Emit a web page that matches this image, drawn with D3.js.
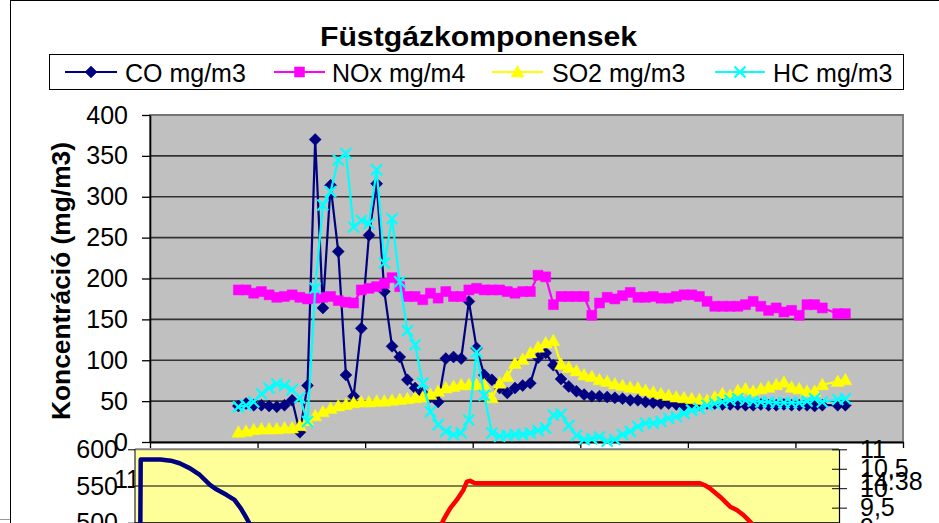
<!DOCTYPE html>
<html><head><meta charset="utf-8">
<script src="https://cdn.jsdelivr.net/npm/d3@7"></script>
<style>
body{margin:0;background:#fff;}
svg{display:block;font-family:"Liberation Sans",Arial,Helvetica,sans-serif;}
</style>
</head><body>
<svg id="c" width="939" height="523"></svg>
<script>
// ---------- DATA ----------
const chartTitle = "Füstgázkomponensek";
const yAxisTitle = "Koncentráció (mg/m3)";
const seriesNames = ["CO mg/m3", "NOx mg/m4", "SO2 mg/m3", "HC mg/m3"];
const yTicks = [0, 50, 100, 150, 200, 250, 300, 350, 400];
const categoryCount = 98;      // category slots on the x axis
const firstCategory = 11;      // first slot holding data
const xTickValues = [0, 14, 28, 42, 56, 70, 84, 98];

const coValues = [44,47,45,45,44,43,45,51,12,69,
  370,164,314,233,82,56,139,253,316,184,
  117,104,76,66,60,55,49,102,104,102,
  172,115,82,76,66,60,66,69,72,103,
  109,94,77,68,62,58,56,56,55,54,
  53,51,51,49,48,47,47,46,45,46,
  46,47,47,46,46,46,45,45,46,45,
  45,46,45,45,45,44,45,null,45,45];
const noxValues = [186,186,182,184,180,177,178,180,177,175,
  176,177,178,173,171,170,186,188,190,194,
  201,190,178,178,174,182,176,184,178,178,
  186,188,186,186,186,184,182,184,184,204,
  202,168,178,178,178,178,155,170,177,175,
  179,183,177,177,178,176,176,178,180,180,
  178,172,166,166,166,166,168,172,166,161,
  164,159,161,155,168,168,164,null,157,157];
const so2Values = [12,13,15,16,16,16,17,17,20,26,
  32,37,41,44,46,48,49,49,50,50,
  51,52,53,54,55,58,62,66,68,70,
  70,70,70,54,72,80,96,101,109,116,
  121,124,95,91,87,82,80,76,74,71,
  69,67,66,63,61,59,57,55,54,53,
  52,51,55,59,57,63,65,62,65,67,
  70,73,67,65,62,62,70,null,74,76];
const hcValues = [43,45,49,59,66,71,69,64,54,25,
  188,290,306,345,353,263,271,267,333,219,
  273,196,136,119,72,37,21,13,9,11,
  27,110,57,11,7,8,9,9,11,14,
  17,33,34,20,8,3,4,6,1,3,
  9,13,19,23,23,25,29,31,35,39,
  41,45,47,49,51,53,51,50,49,49,
  48,48,48,48,50,53,49,null,52,53];

// second (lower) chart, partly visible
const lowerLeftTicks = [500, 550, 600];
const lowerRightTicks = [9, 9.5, 10, 10.5, 11];
const lowerExtraLabel = "14:38";
const lowerHiddenLabel = "11";
const blueTime  = [0, 0.4, 3, 6, 9, 11.5, 14.5, 17.3, 20.2, 22, 25, 27.2, 29, 30.4, 32.5];
const blueValue = [250, 586, 586, 586, 584.5, 581, 574, 565, 551.4, 545.5, 537.7, 531, 519.6, 508.2, 490];
const redTime  = [84.8, 86.9, 88.8, 90.7, 92.6, 93.6, 94.5, 95.9, 160.2, 161.6, 163, 165.9, 168.8, 170.7, 172.6, 174.5, 176.8];
const redValue = [480, 503.7, 519.6, 531, 544.6, 556, 557, 553.7, 553.7, 551, 547, 535.4, 521.8, 517.3, 510.5, 501.4, 488];

// ---------- DRAW ----------
const svg = d3.select("#c");
const FONT = 25;

// outer frame of the first chart
svg.append("line").attr("x1",10.5).attr("x2",10.5).attr("y1",0).attr("y2",523).attr("stroke","#000").attr("stroke-width",1);
svg.append("line").attr("x1",10).attr("x2",939).attr("y1",0.5).attr("y2",0.5).attr("stroke","#000").attr("stroke-width",1);
svg.append("line").attr("x1",0).attr("x2",10).attr("y1",519.5).attr("y2",519.5).attr("stroke","#999").attr("stroke-width",1);

// title
svg.append("text").attr("x",478.5).attr("y",46).attr("text-anchor","middle")
  .attr("font-size",27).attr("font-weight","bold").attr("textLength",317).attr("lengthAdjust","spacingAndGlyphs")
  .text(chartTitle);

// scales
const x = d3.scaleLinear().domain([0, categoryCount]).range([150, 903]);
const y = d3.scaleLinear().domain([0, 400]).range([442, 115]);

// plot area
svg.append("rect").attr("x",150).attr("y",115).attr("width",753).attr("height",327)
  .attr("fill","#C0C0C0").attr("stroke","#808080").attr("stroke-width",2);

// gridlines
svg.append("g").selectAll("line").data(yTicks.filter(v=>v>0)).join("line")
  .attr("x1",x(0)).attr("x2",x(categoryCount))
  .attr("y1",d=>y(d)).attr("y2",d=>y(d))
  .attr("stroke",d=>d===400?"#707070":"#333").attr("stroke-width",1.7);

// axes
const yAxis = d3.axisLeft(y).tickValues(yTicks).tickSize(8).tickSizeOuter(0).tickPadding(14);
const gy = svg.append("g").attr("transform","translate(150,0)").call(yAxis);
gy.select(".domain").attr("stroke","#000").attr("stroke-width",1.6);
gy.selectAll(".tick line").attr("stroke","#000").attr("stroke-width",1.3);
gy.selectAll("text").attr("font-size",FONT).attr("fill","#000").attr("font-family","Liberation Sans, Arial, sans-serif");

const xAxis = d3.axisBottom(x).tickValues(xTickValues).tickSize(6).tickSizeOuter(0).tickFormat("");
const gx = svg.append("g").attr("transform","translate(0,442)").call(xAxis);
gx.select(".domain").attr("stroke","#000").attr("stroke-width",1.8);
gx.selectAll(".tick line").attr("stroke","#000").attr("stroke-width",1.3);

// y title
svg.append("text").attr("transform","translate(70,281) rotate(-90)").attr("text-anchor","middle")
  .attr("font-size",26).attr("font-weight","bold").attr("textLength",278).attr("lengthAdjust","spacingAndGlyphs")
  .text(yAxisTitle);

// series
const markers = {
  diamond: "M0,-6L6,0L0,6L-6,0Z",
  square: "M-5,-5h10v10h-10Z",
  triangle: "M0,-6.5L6.5,5L-6.5,5Z",
  cross: "M-5.5,-5.5L5.5,5.5M5.5,-5.5L-5.5,5.5"
};
const series = [
  {name: seriesNames[0], values: coValues,  color: "#000080", marker: "diamond"},
  {name: seriesNames[1], values: noxValues, color: "#FF00FF", marker: "square"},
  {name: seriesNames[2], values: so2Values, color: "#FFFF00", marker: "triangle"},
  {name: seriesNames[3], values: hcValues,  color: "#00FFFF", marker: "cross"}
];
const line = d3.line().x(d=>d.x).y(d=>d.y);
series.forEach(s => {
  const pts = s.values.map((v,i)=>({v,i})).filter(d=>d.v!==null)
    .map(d=>({x: x(firstCategory + d.i + 0.5), y: y(d.v)}));
  const g = svg.append("g");
  g.append("path").attr("d", line(pts)).attr("fill","none").attr("stroke",s.color).attr("stroke-width",2.2);
  g.selectAll("path.m").data(pts).join("path").attr("class","m")
    .attr("transform",d=>`translate(${d.x},${d.y})`)
    .attr("d", markers[s.marker])
    .attr("fill", s.marker==="cross" ? "none" : s.color)
    .attr("stroke", s.color).attr("stroke-width", s.marker==="cross" ? 2.2 : 0.5);
});

// legend
svg.append("rect").attr("x",49.5).attr("y",54.5).attr("width",854).attr("height",35)
  .attr("fill","#fff").attr("stroke","#000").attr("stroke-width",1);
const legendPos = [[65,117,125],[274,325,332],[492,543,552],[715,765,773]];
series.forEach((s,k) => {
  const [a,b,t] = legendPos[k];
  const g = svg.append("g");
  g.append("line").attr("x1",a).attr("x2",b).attr("y1",72).attr("y2",72).attr("stroke",s.color).attr("stroke-width",2);
  g.append("path").attr("transform",`translate(${(a+b)/2},72)`).attr("d",markers[s.marker])
    .attr("fill", s.marker==="cross" ? "none" : s.color).attr("stroke",s.color).attr("stroke-width", s.marker==="cross"?2:0.5);
  g.append("text").attr("x",t).attr("y",82).attr("font-size",FONT).text(s.name);
});

// ---------- lower chart ----------
const xl = d3.scaleLinear().domain([0, 200]).range([139.3, 839.3]);
const yl = d3.scaleLinear().domain([500, 600]).range([522.7, 449.3]);
const yr = d3.scaleLinear().domain([9, 11]).range([527.1, 449.3]);

svg.append("text").attr("x",114).attr("y",487.5).attr("font-size",FONT).text(lowerHiddenLabel);

svg.append("rect").attr("x",135).attr("y",449.3).attr("width",704).attr("height",90).attr("fill","#FFFF99");
svg.append("line").attr("x1",135).attr("x2",839).attr("y1",449.3).attr("y2",449.3).attr("stroke","#808080").attr("stroke-width",2);
svg.append("line").attr("x1",135).attr("x2",135).attr("y1",449).attr("y2",523).attr("stroke","#555").attr("stroke-width",1.5);

svg.append("g").selectAll("line").data(lowerLeftTicks.filter(v=>v<600)).join("line")
  .attr("x1",135).attr("x2",839).attr("y1",d=>yl(d)).attr("y2",d=>yl(d)).attr("stroke","#000").attr("stroke-width",1);

const gl = svg.append("g").attr("transform","translate(135,0)")
  .call(d3.axisLeft(yl).tickValues(lowerLeftTicks).tickSize(7).tickSizeOuter(0).tickPadding(10));
gl.select(".domain").remove();
gl.selectAll(".tick line").attr("stroke","#000");
gl.selectAll("text").attr("font-size",FONT).attr("fill","#000").attr("font-family","Liberation Sans, Arial, sans-serif");

const gr = svg.append("g").attr("transform","translate(839,0)")
  .call(d3.axisRight(yr).tickValues(lowerRightTicks).tickSize(8).tickSizeOuter(0).tickPadding(13)
        .tickFormat(v=>String(v).replace(".",",")));
gr.select(".domain").attr("stroke","#000").attr("stroke-width",1.2);
gr.selectAll(".tick line").attr("x1",-7).attr("stroke","#000");
gr.selectAll("text").attr("font-size",FONT).attr("fill","#000").attr("font-family","Liberation Sans, Arial, sans-serif");

svg.append("text").attr("x",860).attr("y",490).attr("font-size",FONT).text(lowerExtraLabel);

svg.append("clipPath").attr("id","lc").append("rect").attr("x",135).attr("y",449).attr("width",704).attr("height",80);
const lineL = d3.line().x(d=>xl(d[0])).y(d=>yl(d[1]));
svg.append("path").attr("clip-path","url(#lc)")
  .attr("d", lineL(blueTime.map((t,i)=>[t, blueValue[i]])))
  .attr("fill","none").attr("stroke","#000080").attr("stroke-width",4.5).attr("stroke-linejoin","round");
svg.append("path").attr("clip-path","url(#lc)")
  .attr("d", lineL(redTime.map((t,i)=>[t, redValue[i]])))
  .attr("fill","none").attr("stroke","#FF0000").attr("stroke-width",4.5).attr("stroke-linejoin","round");
</script>
</body></html>
